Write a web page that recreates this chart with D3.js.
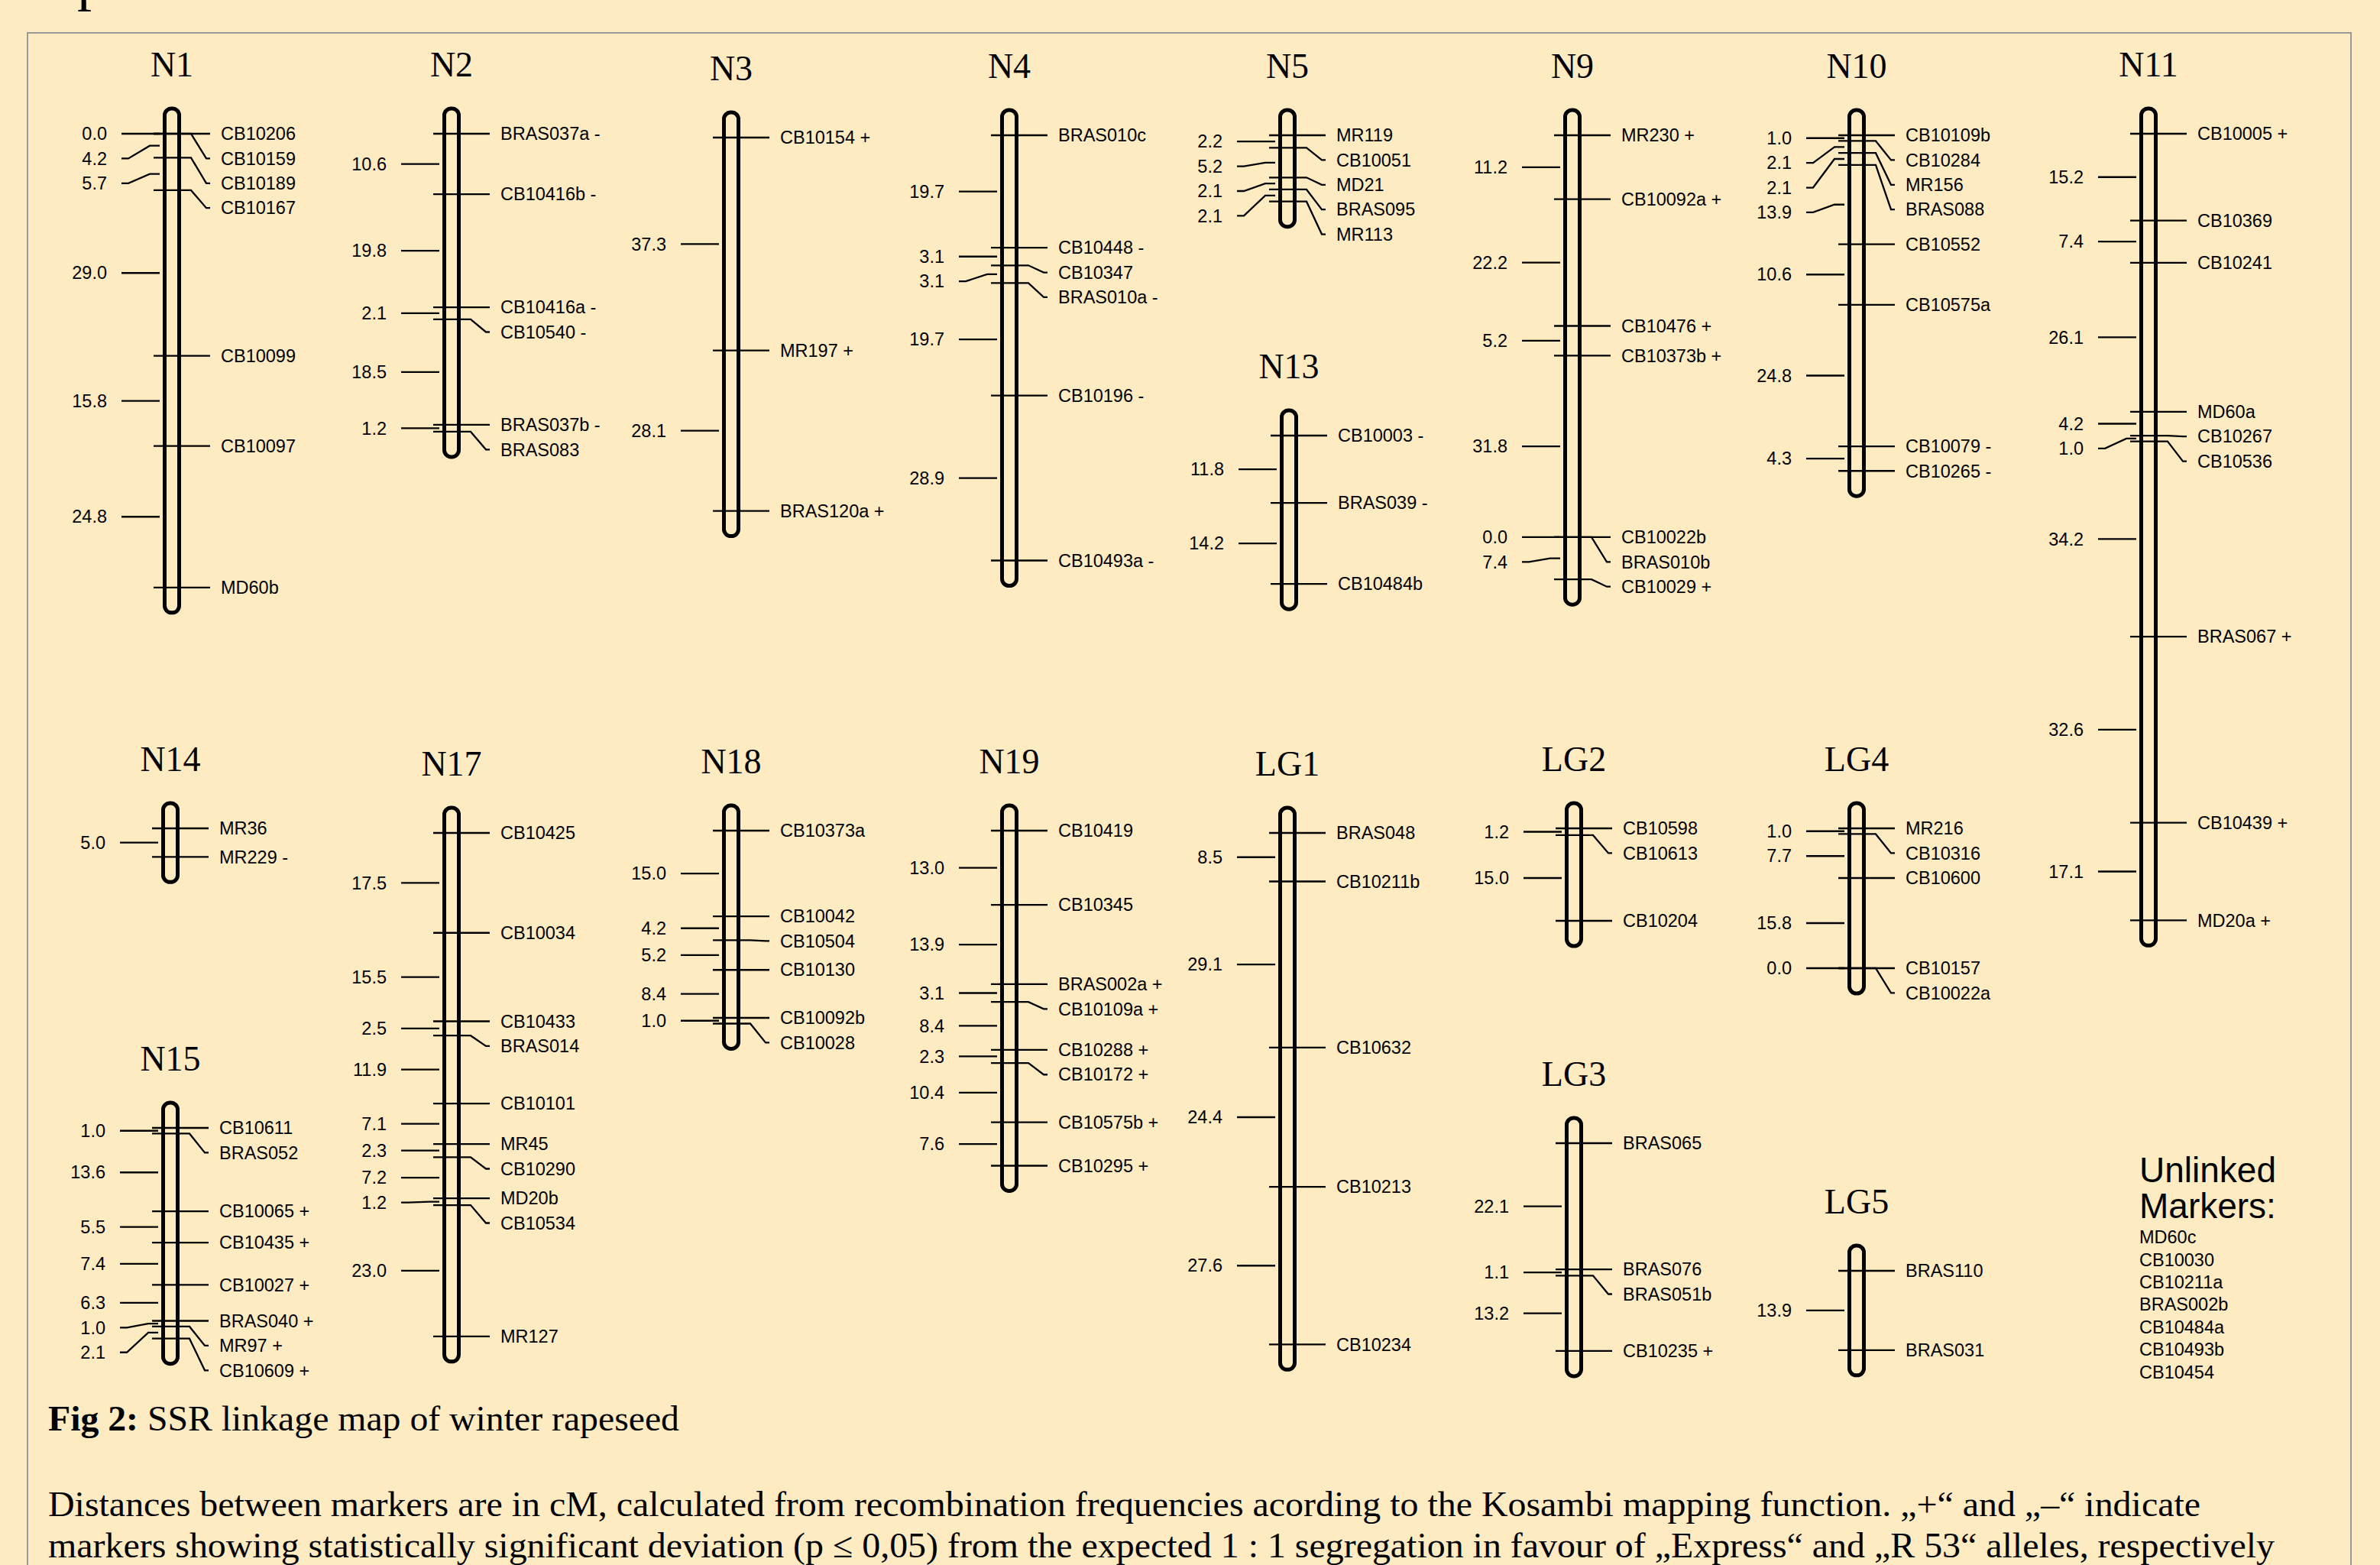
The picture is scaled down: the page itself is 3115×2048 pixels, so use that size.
<!DOCTYPE html>
<html>
<head>
<meta charset="utf-8">
<script src="https://cdn.jsdelivr.net/npm/d3@7"></script>
<style>
  body { margin: 0; background: #ffebc1; }
  svg { display: block; }
  .lbl { font-family: "Liberation Sans", Arial, Helvetica, sans-serif; font-size: 23.5px; fill: #000; }
  .ttl { font-family: "Liberation Serif", "Times New Roman", serif; font-size: 46px; fill: #000; }
  .cap { font-family: "Liberation Serif", "Times New Roman", serif; font-size: 47px; fill: #000; }
</style>
</head>
<body>
<div id="chart"></div>
<script>
// marker names (top to bottom) and distances between neighbours in cM
const n1Markers = ["CB10206", "CB10159", "CB10189", "CB10167", "CB10099", "CB10097", "MD60b"];
const n1Dist = [0.0, 4.2, 5.7, 29.0, 15.8, 24.8];
const n2Markers = ["BRAS037a -", "CB10416b -", "CB10416a -", "CB10540 -", "BRAS037b -", "BRAS083"];
const n2Dist = [10.6, 19.8, 2.1, 18.5, 1.2];
const n3Markers = ["CB10154 +", "MR197 +", "BRAS120a +"];
const n3Dist = [37.3, 28.1];
const n4Markers = ["BRAS010c", "CB10448 -", "CB10347", "BRAS010a -", "CB10196 -", "CB10493a -"];
const n4Dist = [19.7, 3.1, 3.1, 19.7, 28.9];
const n5Markers = ["MR119", "CB10051", "MD21", "BRAS095", "MR113"];
const n5Dist = [2.2, 5.2, 2.1, 2.1];
const n13Markers = ["CB10003 -", "BRAS039 -", "CB10484b"];
const n13Dist = [11.8, 14.2];
const n9Markers = ["MR230 +", "CB10092a +", "CB10476 +", "CB10373b +", "CB10022b", "BRAS010b", "CB10029 +"];
const n9Dist = [11.2, 22.2, 5.2, 31.8, 0.0, 7.4];
const n10Markers = ["CB10109b", "CB10284", "MR156", "BRAS088", "CB10552", "CB10575a", "CB10079 -", "CB10265 -"];
const n10Dist = [1.0, 2.1, 2.1, 13.9, 10.6, 24.8, 4.3];
const n11Markers = ["CB10005 +", "CB10369", "CB10241", "MD60a", "CB10267", "CB10536", "BRAS067 +", "CB10439 +", "MD20a +"];
const n11Dist = [15.2, 7.4, 26.1, 4.2, 1.0, 34.2, 32.6, 17.1];
const n14Markers = ["MR36", "MR229 -"];
const n14Dist = [5.0];
const n15Markers = ["CB10611", "BRAS052", "CB10065 +", "CB10435 +", "CB10027 +", "BRAS040 +", "MR97 +", "CB10609 +"];
const n15Dist = [1.0, 13.6, 5.5, 7.4, 6.3, 1.0, 2.1];
const n17Markers = ["CB10425", "CB10034", "CB10433", "BRAS014", "CB10101", "MR45", "CB10290", "MD20b", "CB10534", "MR127"];
const n17Dist = [17.5, 15.5, 2.5, 11.9, 7.1, 2.3, 7.2, 1.2, 23.0];
const n18Markers = ["CB10373a", "CB10042", "CB10504", "CB10130", "CB10092b", "CB10028"];
const n18Dist = [15.0, 4.2, 5.2, 8.4, 1.0];
const n19Markers = ["CB10419", "CB10345", "BRAS002a +", "CB10109a +", "CB10288 +", "CB10172 +", "CB10575b +", "CB10295 +"];
const n19Dist = [13.0, 13.9, 3.1, 8.4, 2.3, 10.4, 7.6];
const lg1Markers = ["BRAS048", "CB10211b", "CB10632", "CB10213", "CB10234"];
const lg1Dist = [8.5, 29.1, 24.4, 27.6];
const lg2Markers = ["CB10598", "CB10613", "CB10204"];
const lg2Dist = [1.2, 15.0];
const lg3Markers = ["BRAS065", "BRAS076", "BRAS051b", "CB10235 +"];
const lg3Dist = [22.1, 1.1, 13.2];
const lg4Markers = ["MR216", "CB10316", "CB10600", "CB10157", "CB10022a"];
const lg4Dist = [1.0, 7.7, 15.8, 0.0];
const lg5Markers = ["BRAS110", "BRAS031"];
const lg5Dist = [13.9];
const unlinked = ["MD60c", "CB10030", "CB10211a", "BRAS002b", "CB10484a", "CB10493b", "CB10454"];

// where each linkage group sits on the page (centre x, y of first marker)
const groups = [
  { name: "N1", markers: n1Markers, dist: n1Dist, x: 225, y: 175 },
  { name: "N2", markers: n2Markers, dist: n2Dist, x: 591, y: 175 },
  { name: "N3", markers: n3Markers, dist: n3Dist, x: 957, y: 180 },
  { name: "N4", markers: n4Markers, dist: n4Dist, x: 1321, y: 177 },
  { name: "N5", markers: n5Markers, dist: n5Dist, x: 1685, y: 177 },
  { name: "N13", markers: n13Markers, dist: n13Dist, x: 1687, y: 570 },
  { name: "N9", markers: n9Markers, dist: n9Dist, x: 2058, y: 177 },
  { name: "N10", markers: n10Markers, dist: n10Dist, x: 2430, y: 177 },
  { name: "N11", markers: n11Markers, dist: n11Dist, x: 2812, y: 175 },
  { name: "N14", markers: n14Markers, dist: n14Dist, x: 223, y: 1084 },
  { name: "N15", markers: n15Markers, dist: n15Dist, x: 223, y: 1476 },
  { name: "N17", markers: n17Markers, dist: n17Dist, x: 591, y: 1090 },
  { name: "N18", markers: n18Markers, dist: n18Dist, x: 957, y: 1087 },
  { name: "N19", markers: n19Markers, dist: n19Dist, x: 1321, y: 1087 },
  { name: "LG1", markers: lg1Markers, dist: lg1Dist, x: 1685, y: 1090 },
  { name: "LG2", markers: lg2Markers, dist: lg2Dist, x: 2060, y: 1084 },
  { name: "LG3", markers: lg3Markers, dist: lg3Dist, x: 2060, y: 1496 },
  { name: "LG4", markers: lg4Markers, dist: lg4Dist, x: 2430, y: 1084 },
  { name: "LG5", markers: lg5Markers, dist: lg5Dist, x: 2430, y: 1663 }
];

const W = 3115, H = 2048;
const pxPerCM = 7.47;
const gap = 32.4; // min distance between labels

const svg = d3.select("#chart").append("svg")
  .attr("width", W)
  .attr("height", H)
  .attr("viewBox", "0 0 " + W + " " + H);

svg.append("rect").attr("width", W).attr("height", H).attr("fill", "#ffebc1");

// frame
svg.append("rect")
  .attr("x", 36).attr("y", 43)
  .attr("width", 3041).attr("height", 2100)
  .attr("fill", "none")
  .attr("stroke", "#9a9a9a")
  .attr("stroke-width", 2);

// bit of a heading cut off at the top
svg.append("text")
  .attr("class", "ttl")
  .attr("x", 101).attr("y", -1)
  .style("font-size", "76px")
  .text("p");

// push labels down so they don't overlap
function spread(ys) {
  const out = [];
  ys.forEach((v, i) => {
    out.push(i === 0 ? v : Math.max(v, out[i - 1] + gap));
  });
  return out;
}

groups.forEach(gr => {
  const cx = gr.x;
  const cum = [0];
  gr.dist.forEach(d => cum.push(cum[cum.length - 1] + d));
  const total = cum[cum.length - 1];
  const y = d3.scaleLinear().domain([0, total]).range([gr.y, gr.y + total * pxPerCM]);

  const my = cum.map(c => y(c));
  const mids = gr.dist.map((d, i) => (my[i] + my[i + 1]) / 2);
  const ly = spread(my);
  const iy = spread(mids);

  const g = svg.append("g").attr("class", "group");

  g.append("text")
    .attr("class", "ttl")
    .attr("x", cx)
    .attr("y", gr.y - 75)
    .attr("text-anchor", "middle")
    .text(gr.name);

  g.append("rect")
    .attr("x", cx - 9.5)
    .attr("y", y(0) - 33)
    .attr("width", 19)
    .attr("height", y(total) - y(0) + 66)
    .attr("rx", 9)
    .attr("fill", "#ffebc1")
    .attr("stroke", "#000")
    .attr("stroke-width", 5);

  // marker lines + connectors
  g.selectAll(".mline")
    .data(gr.markers)
    .enter()
    .append("path")
    .attr("class", "mline")
    .attr("d", (d, i) => {
      if (Math.abs(ly[i] - my[i]) < 0.5) return "M" + (cx - 24) + "," + my[i] + "H" + (cx + 50);
      return "M" + (cx - 24) + "," + my[i] + "H" + (cx + 25) + "L" + (cx + 45) + "," + ly[i] + "H" + (cx + 50);
    })
    .attr("fill", "none")
    .attr("stroke", "#000")
    .attr("stroke-width", 2.3);

  g.selectAll(".mlabel")
    .data(gr.markers)
    .enter()
    .append("text")
    .attr("class", "lbl")
    .attr("x", cx + 64)
    .attr("y", (d, i) => ly[i])
    .attr("dy", "0.35em")
    .text(d => d);

  // distance ticks on the left
  g.selectAll(".dline")
    .data(gr.dist)
    .enter()
    .append("path")
    .attr("class", "dline")
    .attr("d", (d, i) => {
      if (Math.abs(iy[i] - mids[i]) < 0.5) return "M" + (cx - 16) + "," + mids[i] + "H" + (cx - 66);
      return "M" + (cx - 16) + "," + mids[i] + "H" + (cx - 29) + "L" + (cx - 57) + "," + iy[i] + "H" + (cx - 66);
    })
    .attr("fill", "none")
    .attr("stroke", "#000")
    .attr("stroke-width", 2.3);

  g.selectAll(".dlabel")
    .data(gr.dist)
    .enter()
    .append("text")
    .attr("class", "lbl")
    .attr("x", cx - 85)
    .attr("y", (d, i) => iy[i])
    .attr("dy", "0.35em")
    .attr("text-anchor", "end")
    .text(d => d.toFixed(1));
});

// unlinked markers
svg.append("text")
  .attr("class", "lbl")
  .attr("x", 2800).attr("y", 1547)
  .style("font-size", "46px")
  .text("Unlinked");
svg.append("text")
  .attr("class", "lbl")
  .attr("x", 2800).attr("y", 1594)
  .style("font-size", "46px")
  .text("Markers:");
svg.selectAll(".unl")
  .data(unlinked)
  .enter()
  .append("text")
  .attr("class", "lbl unl")
  .attr("x", 2800)
  .attr("y", (d, i) => 1619 + i * 29.4)
  .attr("dy", "0.35em")
  .text(d => d);

// caption
const cap = svg.append("text").attr("class", "cap").attr("x", 63).attr("y", 1872)
  .attr("textLength", 826).attr("lengthAdjust", "spacingAndGlyphs");
cap.append("tspan").style("font-weight", "bold").text("Fig 2:");
cap.append("tspan").text(" SSR linkage map of winter rapeseed");

svg.append("text")
  .attr("class", "cap")
  .attr("x", 63).attr("y", 1984)
  .attr("textLength", 2817).attr("lengthAdjust", "spacingAndGlyphs")
  .text("Distances between markers are in cM, calculated from recombination frequencies acording to the Kosambi mapping function. \u201E+\u201C and \u201E\u2013\u201C indicate");
svg.append("text")
  .attr("class", "cap")
  .attr("x", 63).attr("y", 2038)
  .attr("textLength", 2914).attr("lengthAdjust", "spacingAndGlyphs")
  .text("markers showing statistically significant deviation (p \u2264 0,05) from the expected 1 : 1 segregation in favour of \u201EExpress\u201C and \u201ER 53\u201C alleles, respectively");
</script>
</body>
</html>
